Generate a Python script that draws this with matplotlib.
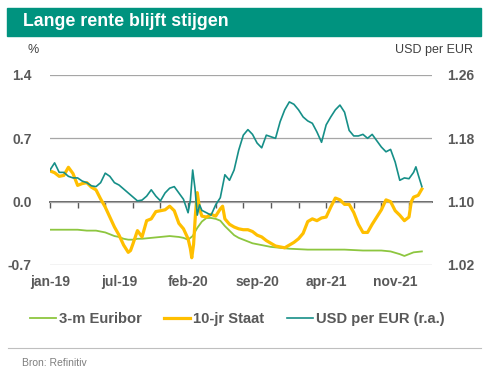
import matplotlib
matplotlib.use("Agg")
import matplotlib.pyplot as plt
from matplotlib.patches import Rectangle
from matplotlib.lines import Line2D

plt.rcParams['font.family'] = ['Liberation Sans', 'DejaVu Sans']

# x-as: handelsdag sinds 2 jan 2019 (Excel categorie-as)
tick_pos = [0, 150, 300, 450, 600, 750]
tick_labels = ['jan-19', 'jul-19', 'feb-20', 'sep-20', 'apr-21', 'nov-21']
minor_pos = list(range(0, 800, 60))

# 3-m Euribor (%)
euribor_dag = [0, 20, 40, 60, 80, 100, 110, 120, 130, 140, 150, 160, 170, 180, 190, 200,
               220, 240, 260, 280, 290, 300, 310, 320, 330, 340, 350, 360, 370, 380, 390,
               400, 410, 420, 440, 460, 480, 500, 520, 560, 600, 640, 680, 720, 740, 760,
               770, 780, 790, 808]
euribor = [-0.31, -0.31, -0.31, -0.31, -0.32, -0.32, -0.33, -0.34, -0.36, -0.38, -0.39,
           -0.41, -0.42, -0.42, -0.41, -0.41, -0.40, -0.39, -0.38, -0.39, -0.40, -0.42,
           -0.38, -0.29, -0.22, -0.18, -0.18, -0.19, -0.21, -0.27, -0.32, -0.37, -0.40,
           -0.42, -0.46, -0.48, -0.50, -0.51, -0.52, -0.53, -0.53, -0.53, -0.54, -0.54,
           -0.55, -0.58, -0.60, -0.58, -0.56, -0.55]

# 10-jr Staat (%)
staat_dag = [0, 10, 20, 30, 40, 50, 60, 70, 80, 90, 100, 110, 120, 130, 140, 150, 160,
             170, 175, 180, 190, 200, 210, 220, 230, 240, 250, 260, 270, 280, 290, 300,
             305, 308, 312, 316, 320, 325, 330, 340, 350, 360, 370, 375, 380, 390, 400,
             410, 420, 430, 440, 450, 460, 470, 480, 490, 500, 510, 520, 530, 540, 550,
             560, 570, 580, 590, 600, 610, 620, 630, 640, 650, 660, 670, 680, 690, 700,
             710, 720, 730, 740, 750, 760, 770, 780, 785, 790, 800, 808]
staat = [0.34, 0.32, 0.28, 0.29, 0.38, 0.31, 0.18, 0.20, 0.21, 0.16, 0.13, 0.03, -0.06,
         -0.17, -0.28, -0.37, -0.48, -0.56, -0.54, -0.47, -0.32, -0.39, -0.21, -0.19,
         -0.11, -0.10, -0.09, -0.05, -0.10, -0.24, -0.30, -0.41, -0.52, -0.62, -0.47,
         -0.14, 0.10, -0.08, -0.16, -0.17, -0.14, -0.16, -0.08, -0.05, -0.19, -0.25,
         -0.28, -0.30, -0.31, -0.31, -0.33, -0.37, -0.39, -0.43, -0.46, -0.49, -0.50,
         -0.51, -0.48, -0.45, -0.41, -0.35, -0.22, -0.19, -0.21, -0.18, -0.17, -0.06,
         0.04, 0.02, -0.03, -0.03, -0.12, -0.25, -0.34, -0.34, -0.25, -0.17, -0.09,
         0.02, 0.00, -0.10, -0.15, -0.21, -0.17, 0.00, 0.05, 0.07, 0.14]

# USD per EUR (r.a.)
usd_dag = [0, 10, 20, 30, 40, 50, 60, 70, 80, 90, 100, 110, 120, 130, 140, 150, 160, 170,
           180, 190, 200, 210, 220, 230, 240, 250, 260, 270, 280, 290, 300, 305, 310, 315,
           320, 325, 330, 340, 350, 360, 370, 380, 390, 400, 410, 420, 430, 440, 450, 460,
           470, 480, 490, 500, 510, 520, 530, 540, 550, 560, 570, 580, 590, 600, 610, 620,
           630, 640, 650, 660, 670, 680, 690, 700, 710, 720, 730, 740, 750, 760, 770, 780,
           790, 795, 800, 808]
usd = [1.140, 1.149, 1.137, 1.137, 1.132, 1.130, 1.130, 1.126, 1.124, 1.120, 1.119, 1.124,
       1.136, 1.132, 1.124, 1.121, 1.116, 1.111, 1.106, 1.101, 1.102, 1.107, 1.115, 1.107,
       1.101, 1.111, 1.117, 1.119, 1.111, 1.103, 1.086, 1.102, 1.140, 1.117, 1.083, 1.096,
       1.089, 1.086, 1.083, 1.096, 1.105, 1.134, 1.127, 1.140, 1.165, 1.184, 1.191, 1.185,
       1.174, 1.168, 1.184, 1.182, 1.180, 1.201, 1.216, 1.226, 1.223, 1.216, 1.207, 1.202,
       1.199, 1.188, 1.175, 1.197, 1.207, 1.216, 1.222, 1.213, 1.190, 1.183, 1.183, 1.185,
       1.180, 1.185, 1.177, 1.169, 1.163, 1.166, 1.150, 1.127, 1.130, 1.129, 1.137, 1.144,
       1.134, 1.119]

c_green = '#8DC63F'
c_yellow = '#FFBF00'
c_teal = '#168F88'
c_txt = '#595959'

fig = plt.figure(figsize=(4.95, 3.82), dpi=100)

# titelbalk
fig.patches.append(Rectangle((7 / 495, 1 - 36 / 382), 474 / 495, 28 / 382,
                             transform=fig.transFigure, color='#00937F', zorder=0))
fig.text(23 / 495, 1 - 22 / 382, 'Lange rente blijft stijgen', color='white',
         fontsize=12.8, fontweight='bold', va='center', ha='left')
fig.text(28 / 495, 1 - 50 / 382, '%', color='#404040', fontsize=9, va='center')
fig.text(473 / 495, 1 - 50 / 382, 'USD per EUR', color='#404040', fontsize=9,
         va='center', ha='right')

ax = fig.add_axes([50 / 495, 117 / 382, 382 / 495, 190 / 382])
ax2 = ax.twinx()

ax.set_xlim(0, 830)
ax.set_ylim(-0.7, 1.4)
ax2.set_ylim(1.02, 1.26)

l1, = ax.plot(euribor_dag, euribor, color=c_green, lw=1.3, label='3-m Euribor')
l2, = ax.plot(staat_dag, staat, color=c_yellow, lw=2.3, label='10-jr Staat')
l3, = ax2.plot(usd_dag, usd, color=c_teal, lw=1.2, label='USD per EUR (r.a.)')

for a in (ax, ax2):
    for s in a.spines.values():
        s.set_visible(False)

ax.set_yticks([-0.7, 0.0, 0.7, 1.4])
ax.set_yticklabels(['-0.7', '0.0', '0.7', '1.4'])
ax2.set_yticks([1.02, 1.10, 1.18, 1.26])
ax2.set_yticklabels(['1.02', '1.10', '1.18', '1.26'])
ax.grid(axis='y', color='#A6A6A6', lw=0.9)
ax.set_axisbelow(True)

ax.set_xticks(tick_pos)
ax.set_xticklabels(tick_labels)
ax.tick_params(axis='x', length=0, pad=7, labelsize=10, labelcolor=c_txt)
ax.tick_params(axis='y', length=0, pad=13, labelsize=10, labelcolor=c_txt)
ax2.tick_params(axis='y', length=0, pad=11, labelsize=10, labelcolor=c_txt)
for t in ax.get_xticklabels() + ax.get_yticklabels() + ax2.get_yticklabels():
    t.set_fontweight('bold')

# nul-as met streepjes
sec = ax.secondary_xaxis(0.7 / 2.1)
sec.set_xticks(minor_pos)
sec.set_xticklabels([])
sec.tick_params(direction='out', length=4, width=1, color=c_txt)
for k, s in sec.spines.items():
    s.set_visible(k == 'bottom')
sec.spines['bottom'].set_color(c_txt)
sec.spines['bottom'].set_linewidth(1.3)

leg = fig.legend([l1, l2, l3], [l1.get_label(), l2.get_label(), l3.get_label()],
                 loc='center left', bbox_to_anchor=(30 / 495, 1 - 319 / 382), ncol=3,
                 frameon=False, fontsize=10.6, handlelength=1.75, handletextpad=0.2,
                 columnspacing=1.55, borderpad=0, borderaxespad=0)
for t in leg.get_texts():
    t.set_color(c_txt)
    t.set_fontweight('bold')

fig.lines.append(Line2D([8 / 495, 481 / 495], [1 - 348 / 382, 1 - 348 / 382],
                        transform=fig.transFigure, color='#BFBFBF', lw=0.8))
fig.text(22 / 495, 1 - 363 / 382, 'Bron: Refinitiv', color='#7F7F7F', fontsize=7.5,
         va='center')

fig.savefig('out.png', dpi=100)
